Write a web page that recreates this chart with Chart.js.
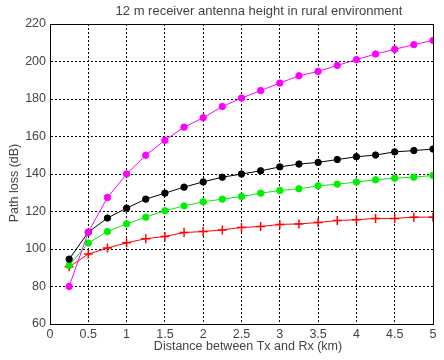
<!DOCTYPE html>
<html>
<head>
<meta charset="utf-8">
<script src="https://cdn.jsdelivr.net/npm/chart.js@4.4.0/dist/chart.umd.min.js"></script>
<style>
html,body{margin:0;padding:0;background:#fff;}
#wrap{width:444px;height:360px;}
</style>
</head>
<body>
<div id="wrap"><canvas id="c" width="444" height="360"></canvas></div>
<script>
const chartTitle = "12 m receiver antenna height in rural environment";
const xTitle = "Distance between Tx and Rx (km)";
const yTitle = "Path loss (dB)";
const distances = [0.25,0.5,0.75,1,1.25,1.5,1.75,2,2.25,2.5,2.75,3,3.25,3.5,3.75,4,4.25,4.5,4.75,5];
const magentaSeries = [80,109,127.5,140,150,158,165,170,176,180.5,184.5,188.5,192.4,194.7,197.9,201,204,206.5,209,211.2];
const blackSeries = [94.6,109,116.5,121.8,126.6,129.8,133,135.8,138.3,140,141.7,143.8,145.3,146.2,147.7,149.2,150.1,151.8,152.5,153.3];
const greenSeries = [91.2,103.2,109.3,113.4,117,120.4,123,125.2,126.6,128,129.8,131.2,132.1,133.7,134.6,135.7,136.9,137.8,138.3,139.2];
const redSeries = [90.5,97.3,100.5,103.3,105.5,106.7,108.8,109.3,110.2,111.5,112,113.1,113.4,114.1,115.2,115.6,116.3,116.3,117,117];
const xTickLabels = ["0","0.5","1","1.5","2","2.5","3","3.5","4","4.5","5"];
const yTickLabels = ["60","80","100","120","140","160","180","200","220"];

const toPts = arr => arr.map((v,i)=>({x:distances[i], y:v}));
const FONT = "'Liberation Sans', Arial, sans-serif";
const TXT = '#444444';

const framePlugin = {
  id:'frame',
  afterDatasetsDraw(chart){
    const {ctx, chartArea:a} = chart;
    ctx.save();
    ctx.strokeStyle = '#000';
    ctx.lineWidth = 1;
    ctx.strokeRect(Math.round(a.left)+0.5, Math.round(a.top)+0.5, Math.round(a.right-a.left), Math.round(a.bottom-a.top));
    ctx.restore();
  },
  afterDraw(chart){
    const {ctx} = chart;
    ctx.save();
    ctx.fillStyle = TXT;
    ctx.textAlign = 'center';
    ctx.textBaseline = 'middle';
    ctx.font = "13px " + FONT;
    ctx.fillText(chartTitle, 259, 11);
    ctx.font = "12.5px " + FONT;
    ctx.fillText(xTitle, 248, 347);
    ctx.translate(15, 183);
    ctx.rotate(-Math.PI/2);
    ctx.fillText(yTitle, 0, 0);
    ctx.restore();
  }
};

const ds = (label, data, color, style, radius) => ({
  label, data: toPts(data), borderColor: color, backgroundColor: color,
  borderWidth: 1, pointStyle: style, pointRadius: radius, pointHoverRadius: radius,
  pointBorderWidth: style==='cross'?1.5:1, tension: 0, fill:false
});

new Chart(document.getElementById('c'), {
  type:'line',
  data:{ datasets:[
    ds('magenta', magentaSeries, '#ff00ff', 'circle', 3.2),
    ds('black', blackSeries, '#000000', 'circle', 3.2),
    ds('green', greenSeries, '#00f000', 'circle', 3.2),
    ds('red', redSeries, '#ff0000', 'cross', 4.5)
  ]},
  options:{
    responsive:false, animation:false,
    layout:{padding:{left:0, top:24, right:11, bottom:0}},
    plugins:{legend:{display:false}, title:{display:false}, tooltip:{enabled:false}},
    scales:{
      x:{type:'linear', min:0, max:5,
        afterFit(s){ s.height = 36; },
        afterBuildTicks(s){ s.ticks = xTickLabels.map(t=>({value:parseFloat(t)})); },
        ticks:{ callback:(v)=>xTickLabels.find(t=>parseFloat(t)===v) ?? '', color:TXT, font:{family:FONT,size:12.5}, padding:3, maxRotation:0, autoSkip:false },
        grid:{ color:'#000', lineWidth:1, drawTicks:false },
        border:{ display:true, color:'#000', width:1, dash:[2,2] }
      },
      y:{min:60, max:220,
        afterFit(s){ s.width = 50; },
        afterBuildTicks(s){ s.ticks = yTickLabels.map(t=>({value:parseFloat(t)})); },
        ticks:{ callback:(v)=>yTickLabels.find(t=>parseFloat(t)===v) ?? '', color:TXT, font:{family:FONT,size:12.5}, padding:4, autoSkip:false },
        grid:{ color:'#000', lineWidth:1, drawTicks:false },
        border:{ display:true, color:'#000', width:1, dash:[2,2] }
      }
    }
  },
  plugins:[framePlugin]
});
</script>
</body>
</html>
